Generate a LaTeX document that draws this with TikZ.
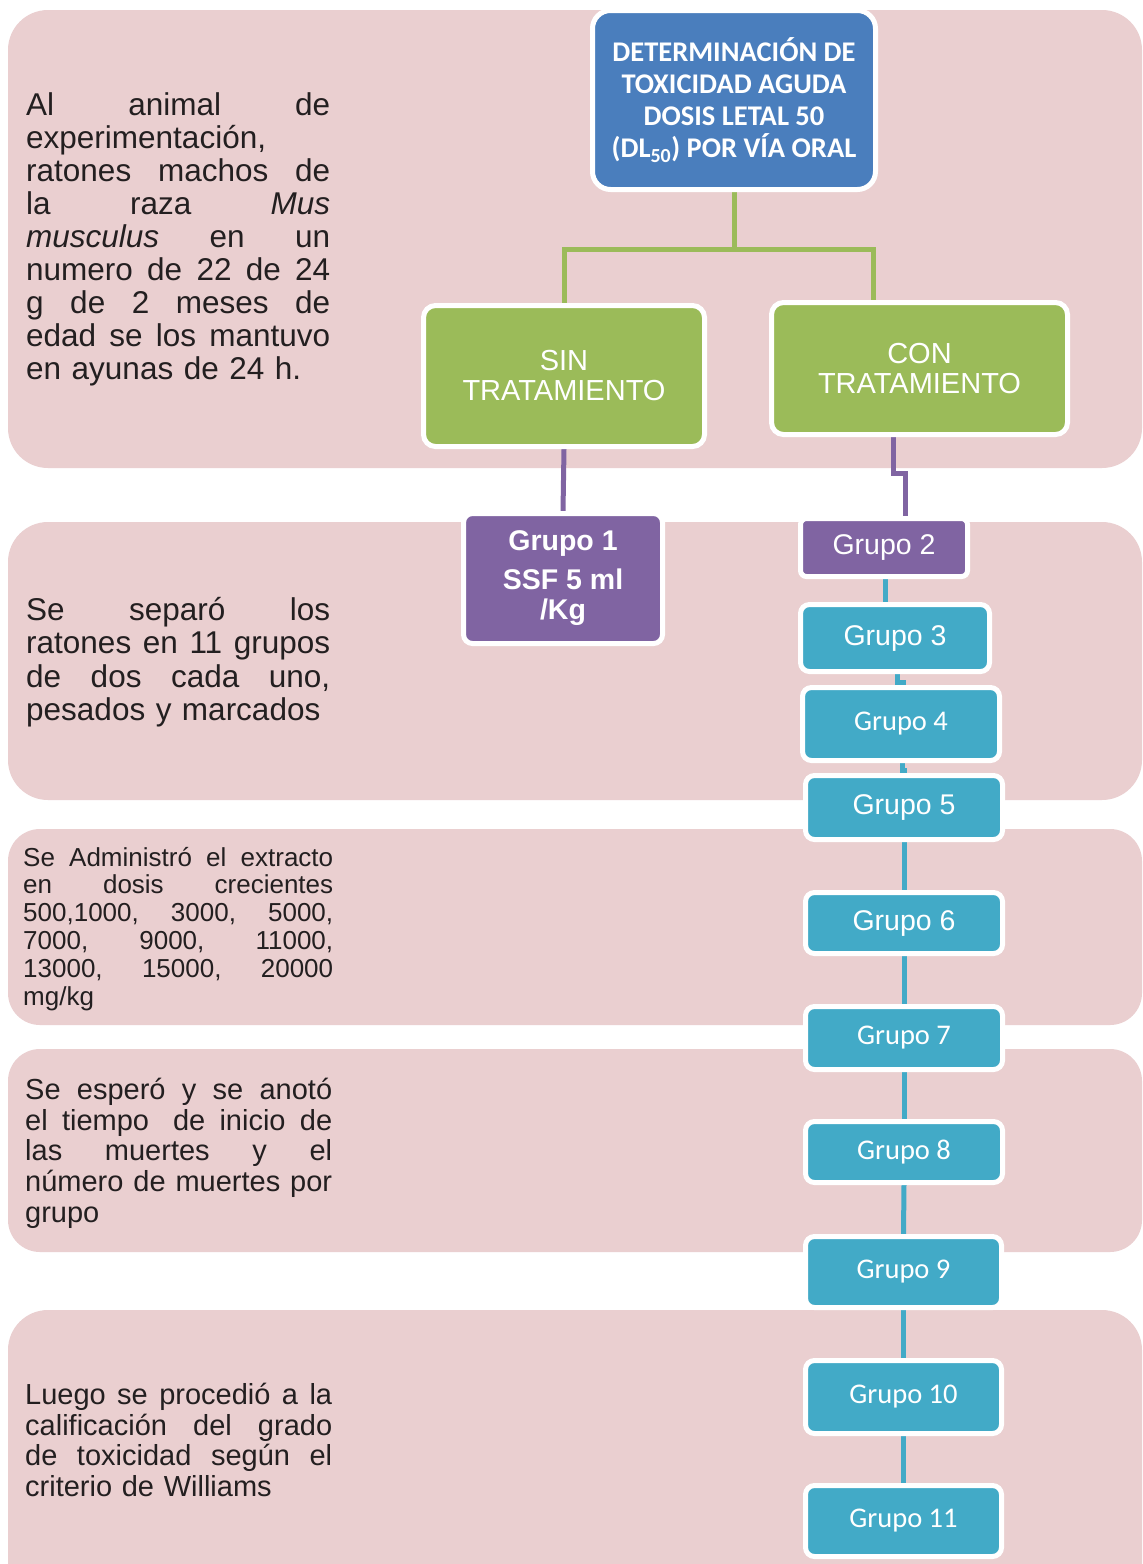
\documentclass[tikz,border=0pt]{standalone}
\usepackage{fontspec}
\setmainfont{Liberation Sans}
\newfontfamily\calib{Carlito}
\usetikzlibrary{calc}
\definecolor{bandc}{RGB}{234,207,208}
\definecolor{bluec}{RGB}{74,126,189}
\definecolor{greenc}{RGB}{155,187,89}
\definecolor{purplec}{RGB}{128,100,162}
\definecolor{tealc}{RGB}{66,170,199}
\definecolor{txtc}{RGB}{35,31,32}
\pgfdeclarelayer{bandlayer}
\pgfdeclarelayer{connlayer}
\pgfsetlayers{bandlayer,connlayer,main}
\newlength\pw
\newcommand\jl[1]{\leavevmode\hbox to \pw{#1}\\}
\newcommand\gsp{\hspace{0pt plus 1fill}}
\tikzset{
  band/.style={fill=bandc},
  boxbase/.style={draw=white, line width=5pt, rounded corners=9pt, text=white, align=center, inner sep=0pt},
  titlebox/.style={boxbase, fill=bluec, rounded corners=18pt, font=\calib\bfseries\fontsize{28.5}{32}\selectfont},
  greenbox/.style={boxbase, fill=greenc, rounded corners=12pt, font=\fontsize{29}{30}\selectfont},
  purplebox/.style={boxbase, fill=purplec},
  tealbox/.style={boxbase, fill=tealc},
  arialtxt/.style={font=\fontsize{28.5}{30}\selectfont},
  calibtxt/.style={font=\calib\fontsize{28.5}{30}\selectfont},
  gline/.style={draw=greenc, line width=5pt},
  pline/.style={draw=purplec, line width=5pt},
  tline/.style={draw=tealc, line width=5pt},
  para/.style={text=txtc, align=left, inner sep=0pt, anchor=north west}
}
\begin{document}
\begin{tikzpicture}[x=1pt,y=-1pt]
\useasboundingbox (0,0) rectangle (1143,1564);
\begin{pgfonlayer}{bandlayer}
\fill[white] (0,0) rectangle (1143,1564);
\fill[band, rounded corners=40pt] (8,10) rectangle (1142,468);
\fill[band, rounded corners=40pt] (8,522) rectangle (1142,800);
\fill[band, rounded corners=32pt] (8,829) rectangle (1142,1025);
\fill[band, rounded corners=32pt] (8,1049) rectangle (1142,1252);
\fill[band] (8,1564) [rounded corners=40pt] -- (8,1310) -- (1142,1310) [sharp corners] -- (1142,1564) -- cycle;
\end{pgfonlayer}

% left texts
\node[para, text width=304pt, font=\fontsize{31.5}{33}\selectfont] (p1) at (26,90) {%
\setlength\pw{304pt}%
\rule{0pt}{0.8em}\jl{Al\gsp animal\gsp de}
experimentación,\\
\jl{ratones\gsp machos\gsp de}
\jl{la\gsp raza\gsp \textit{Mus}}
\jl{\textit{musculus}\gsp en\gsp un}
\jl{numero\gsp de\gsp 22\gsp de\gsp 24}
\jl{g\gsp de\gsp 2\gsp meses\gsp de}
\jl{edad\gsp se\gsp los\gsp mantuvo}
en ayunas de 24 h.};
\node[para, text width=304pt, font=\fontsize{31.5}{33.5}\selectfont] (p2) at (26,595) {%
\setlength\pw{304pt}%
\rule{0pt}{0.8em}\jl{Se\gsp separó\gsp los}
\jl{ratones\gsp en\gsp 11\gsp grupos}
\jl{de\gsp dos\gsp cada\gsp uno,}
pesados y marcados};
\node[para, text width=310pt, font=\fontsize{26}{27.8}\selectfont] (p3) at (23,845) {%
\setlength\pw{310pt}%
\rule{0pt}{0.8em}\jl{Se\gsp Administró\gsp el\gsp extracto}
\jl{en\gsp dosis\gsp crecientes}
\jl{500,1000,\gsp 3000,\gsp 5000,}
\jl{7000,\gsp 9000,\gsp 11000,}
\jl{13000,\gsp 15000,\gsp 20000}
mg/kg};
\node[para, text width=307pt, font=\fontsize{29}{30.7}\selectfont] (p4) at (25,1076) {%
\setlength\pw{307pt}%
\rule{0pt}{0.8em}\jl{Se\gsp esperó\gsp y\gsp se\gsp anotó}
\jl{el\gsp tiempo\ \gsp de\gsp inicio\gsp de}
\jl{las\gsp muertes\gsp y\gsp el}
\jl{número\gsp de\gsp muertes\gsp por}
grupo};
\node[para, text width=307pt, font=\fontsize{29}{30.7}\selectfont] (p5) at (25,1381) {%
\setlength\pw{307pt}%
\rule{0pt}{0.8em}\jl{Luego\gsp se\gsp procedió\gsp a\gsp la}
\jl{calificación\gsp del\gsp grado}
\jl{de\gsp toxicidad\gsp según\gsp el}
criterio de Williams};

% boxes
\node[titlebox, minimum width=283pt, minimum height=179pt] (t) at (734,100)
  {DETERMINACIÓN DE\\TOXICIDAD AGUDA\\DOSIS LETAL 50\\(DL\textsubscript{50}) POR VÍA ORAL};
\node[greenbox, minimum width=281pt, minimum height=141pt] (sin) at (564,376) {SIN\\TRATAMIENTO};
\node[greenbox, minimum width=296pt, minimum height=132pt] (con) at (919.5,368.5) {CON\\TRATAMIENTO};
\node[purplebox, minimum width=199pt, minimum height=130pt, font=\bfseries\fontsize{28.5}{30}\selectfont] (g1) at (563,578.5)
  {Grupo 1\\[9pt]SSF 5 ml\\/Kg};
\node[purplebox, arialtxt, minimum width=167pt, minimum height=58pt, rounded corners=6pt] (g2) at (884,547.5) {Grupo 2};
\node[tealbox, arialtxt, minimum width=189pt, minimum height=67pt] (g3) at (895,638) {Grupo 3};
\node[tealbox, calibtxt, minimum width=197pt, minimum height=73pt] (g4) at (901,724) {Grupo 4};
\node[tealbox, arialtxt, minimum width=197pt, minimum height=64pt] (g5) at (904,807.5) {Grupo 5};
\node[tealbox, arialtxt, minimum width=197pt, minimum height=61pt] (g6) at (904,923) {Grupo 6};
\node[tealbox, calibtxt, minimum width=197pt, minimum height=63pt] (g7) at (904,1038) {Grupo 7};
\node[tealbox, calibtxt, minimum width=197pt, minimum height=61pt] (g8) at (904,1152) {Grupo 8};
\node[tealbox, calibtxt, minimum width=196pt, minimum height=71pt] (g9) at (903.5,1272) {Grupo 9};
\node[tealbox, calibtxt, minimum width=196pt, minimum height=73pt] (g10) at (903.5,1397) {Grupo 10};
\node[tealbox, calibtxt, minimum width=196pt, minimum height=71pt] (g11) at (903.5,1521) {Grupo 11};

% connectors
\begin{pgfonlayer}{connlayer}
\coordinate (gj) at ($(t.south)+(0,57)$);
\draw[gline] (t.south) -- (gj);
\draw[gline] (gj) -| (sin.north);
\draw[gline] (gj) -| ([xshift=-46pt]con.north);
\draw[pline] (sin.south) -- (g1.north);
\draw[pline] ([xshift=-26pt]con.south) -- ++(0,36) -| ([xshift=21pt]g2.north);
\draw[tline] ([xshift=1pt]g2.south) -- ++(0,13) -| ([xshift=-10pt]g3.north);
\draw[tline] ([xshift=2pt]g3.south) -- ++(0,8) -| ([xshift=2pt]g4.north);
\draw[tline] ([xshift=1pt]g4.south) -- ++(0,7) -| ([xshift=0pt]g5.north);
\draw[tline] (g5.south) -- (g6.north);
\draw[tline] (g6.south) -- (g7.north);
\draw[tline] (g7.south) -- (g8.north);
\draw[tline] (g8.south) -- (g9.north);
\draw[tline] (g9.south) -- (g10.north);
\draw[tline] (g10.south) -- (g11.north);
\end{pgfonlayer}
\end{tikzpicture}
\end{document}
